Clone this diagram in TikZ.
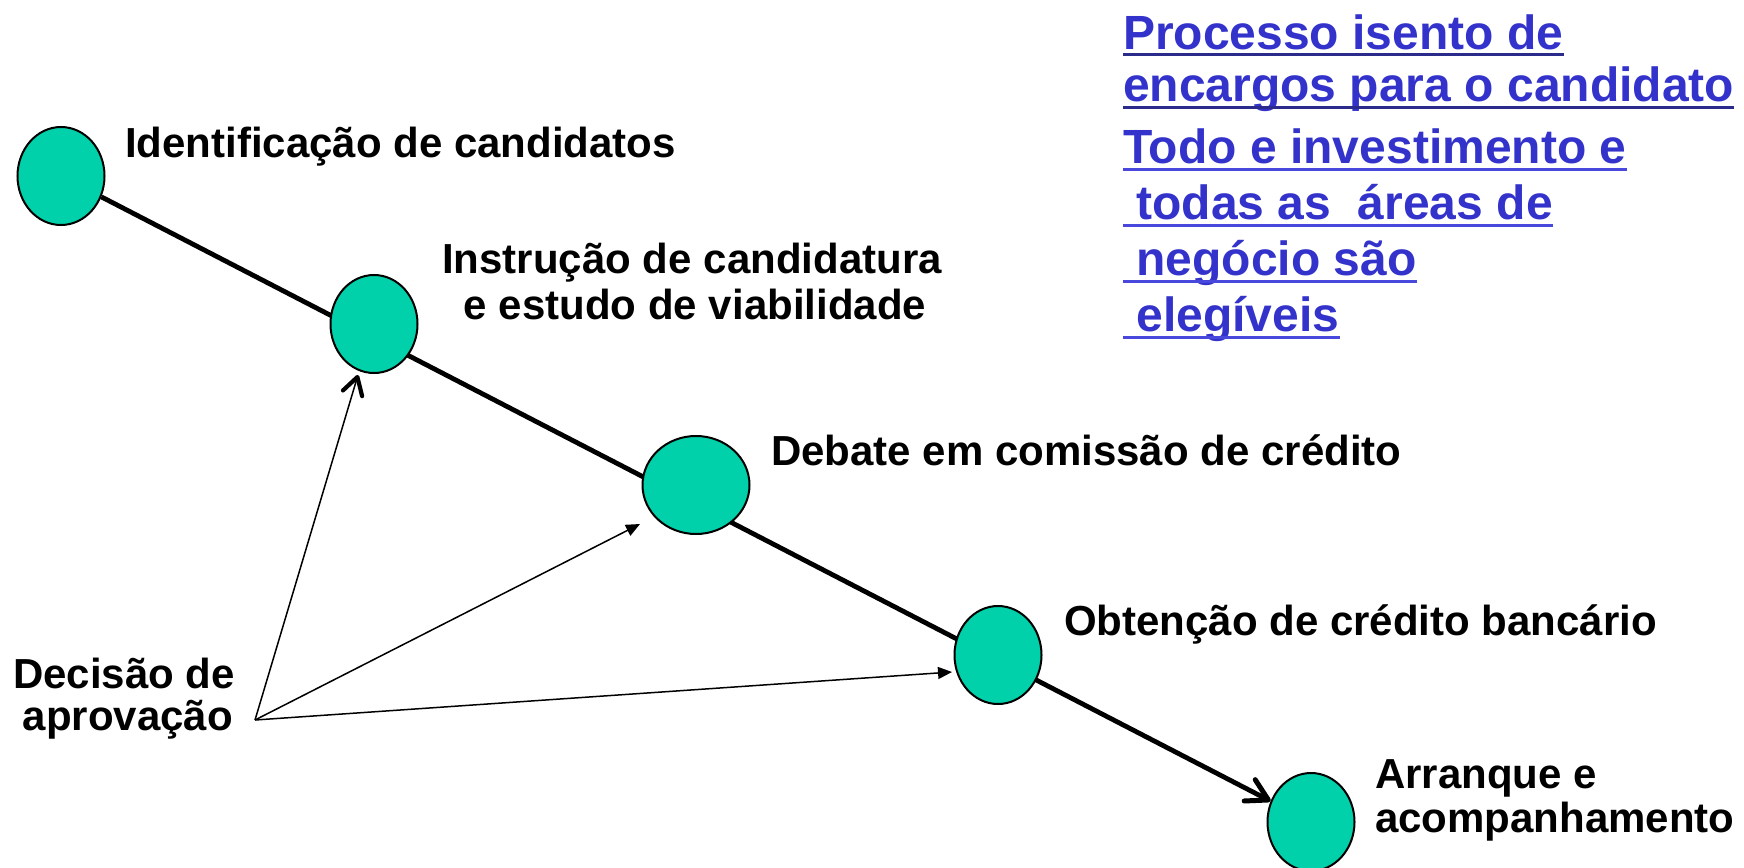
\documentclass[tikz,border=0pt]{standalone}
\usepackage{fontspec}
\setmainfont{Liberation Sans}
\usetikzlibrary{arrows.meta,shapes.geometric,calc,backgrounds}
\definecolor{stagefill}{RGB}{0,209,170}
\definecolor{bluetxt}{RGB}{51,51,204}
\definecolor{ulA}{RGB}{43,43,140}
\definecolor{ulB}{RGB}{72,72,221}
\begin{document}
\begin{tikzpicture}[x=1pt,y=-1pt,
  stage/.style={ellipse, draw=black, line width=2pt, fill=stagefill,
    minimum width=87pt, minimum height=98pt, inner sep=0pt},
  lbl/.style={inner sep=0pt, font=\fontsize{42}{45}\selectfont\bfseries, text=black},
  blu/.style={inner sep=0pt, font=\fontsize{48}{52}\selectfont\bfseries, text=bluetxt},
  mainline/.style={line width=4.8pt,
    -{Straight Barb[length=21pt,width=24pt,line width=5pt,round]}},
  thinarrow/.style={line width=1.5pt, -{Triangle[length=14pt,width=12pt]}},
  thinbarb/.style={line width=1.5pt,
    -{Straight Barb[length=17pt,width=20pt,line width=4.2pt,round]}},
  ulineA/.style={line width=3pt, draw=ulA},
  ulineB/.style={line width=3pt, draw=ulB}
]
\useasboundingbox (0,0) rectangle (1744,867);

% stages
\node[stage] (e1) at (61,176) {};
\node[stage] (e2) at (374,324) {};
\node[stage, minimum width=107pt] (e3) at (696,485) {};
\node[stage] (e4) at (998,655) {};
\node[stage] (e5) at (1311,822) {};

% main thick arrow behind the stages
\begin{scope}[on background layer]
\draw[mainline] (e1) -- (e5);
\end{scope}

% labels
\node[lbl, anchor=base west] (l1) at (125,157) {Identificação de candidatos};
\node[lbl, anchor=base] (l2a) at (692,273) {Instrução de candidatura};
\node[lbl, anchor=base] (l2b) at (695,319) {e estudo de viabilidade};
\node[lbl, anchor=base west] (l3) at (771,465) {Debate em comissão de crédito};
\node[lbl, anchor=base west] (l4) at (1064,635) {Obtenção de crédito bancário};
\node[lbl, anchor=base west] (l5a) at (1375,788) {Arranque e};
\node[lbl, anchor=base west] (l5b) at (1375,832) {acompanhamento};
\node[lbl, anchor=base east] (da) at (235,688) {Decisão de};
\node[lbl, anchor=base east] (db) at (233,730) {aprovação};

% approval arrows
\coordinate (dec) at (255,720);
\draw[thinbarb] (dec) -- ($(e2.center)+(-16,51)$);
\draw[thinarrow] (dec) -- ($(e3.center)+(-56,39)$);
\draw[thinarrow] (dec) -- ($(e4.center)+(-46,17)$);

% blue notes
\node[blu, anchor=base west] (b1) at (1123,49) {Processo isento de};
\node[blu, anchor=base west] (b2) at (1123,101) {encargos para o candidato};
\node[blu, anchor=base west] (b3) at (1123,163) {Todo e investimento e};
\node[blu, anchor=base west] (b4) at (1123,219) {\ todas as\ \ áreas de};
\node[blu, anchor=base west] (b5) at (1123,275) {\ negócio são};
\node[blu, anchor=base west] (b6) at (1123,331) {\ elegíveis};

\draw[ulineA] ($(b1.base west)+(0,6)$) -- ($(b1.base east)+(0,6)$);
\draw[ulineA] ($(b2.base west)+(0,6)$) -- ($(b2.base east)+(0,6)$);
\draw[ulineB] ($(b3.base west)+(0,6)$) -- ($(b3.base east)+(0,6)$);
\draw[ulineB] ($(b4.base west)+(0,6)$) -- ($(b4.base east)+(0,6)$);
\draw[ulineB] ($(b5.base west)+(0,6)$) -- ($(b5.base east)+(0,6)$);
\draw[ulineB] ($(b6.base west)+(0,6)$) -- ($(b6.base east)+(0,6)$);
\end{tikzpicture}
\end{document}
